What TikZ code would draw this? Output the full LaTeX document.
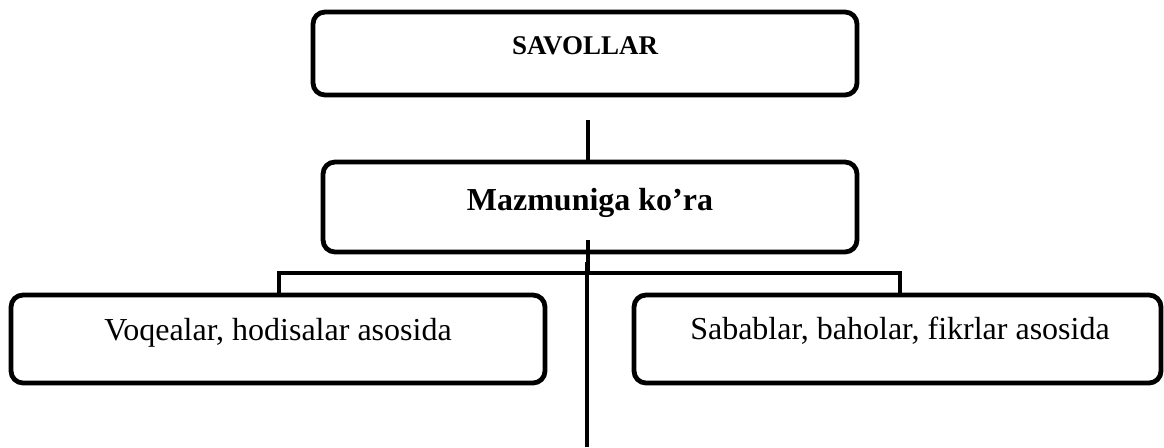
\documentclass[tikz,border=0pt]{standalone}
\usepackage{fontspec}
\setmainfont{Liberation Serif}
\tikzset{
  boxnode/.style={draw=black, line width=4.8pt, rounded corners=12pt, inner sep=0pt},
  label txt/.style={anchor=base, inner sep=0pt},
  conn/.style={draw=black, line width=4.8pt},
  connthin/.style={draw=black, line width=4pt}
}
\begin{document}
\begin{tikzpicture}[x=1pt,y=-1pt]
\useasboundingbox[fill=white] (0,0) rectangle (1164,447);
% boxes
\node[boxnode, minimum width=544pt, minimum height=83pt] (top) at (585,53.5) {};
\node[boxnode, minimum width=534pt, minimum height=90pt] (mid) at (590,207) {};
\node[boxnode, minimum width=534pt, minimum height=88pt] (left) at (278,339) {};
\node[boxnode, minimum width=527pt, minimum height=88pt] (right) at (897.5,339) {};
% texts
\node[label txt, font=\fontsize{27}{31}\selectfont\bfseries] (toptxt) at (585,54) {SAVOLLAR};
\node[label txt, font=\fontsize{32}{36}\selectfont\bfseries] (midtxt) at (590,210) {Mazmuniga ko’ra};
\node[label txt, font=\fontsize{32}{36}\selectfont] (lefttxt) at (278,340) {Voqealar, hodisalar asosida};
\node[label txt, font=\fontsize{32}{36}\selectfont] (righttxt) at (900,339) {Sabablar, baholar, fikrlar asosida};
% connectors
\coordinate (c1) at (588,120);
\draw[conn] (c1) -- (c1 |- mid.north);
\coordinate (c2) at (588,240);
\coordinate (c3) at (587,447);
\draw[conn] (c2) -- (588,273);
\draw[connthin] (587,262) -- (c3);
\coordinate (bl) at (279,273);
\coordinate (br) at (900,273);
\draw[conn] (bl |- left.north) -- (bl) -- (br) -- (br |- right.north);
\end{tikzpicture}
\end{document}
